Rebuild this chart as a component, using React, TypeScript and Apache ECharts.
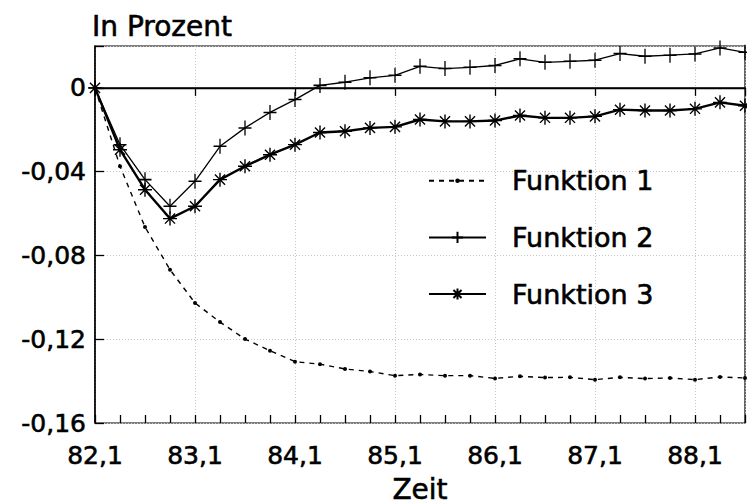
import React, { useEffect, useRef } from "react";
import * as echarts from "echarts";

const periods = [
  "82,1", "82,2", "82,3", "82,4", "83,1", "83,2", "83,3", "83,4",
  "84,1", "84,2", "84,3", "84,4", "85,1", "85,2", "85,3", "85,4",
  "86,1", "86,2", "86,3", "86,4", "87,1", "87,2", "87,3", "87,4",
  "88,1", "88,2", "88,3",
];
const xTickLabels = ["82,1", "83,1", "84,1", "85,1", "86,1", "87,1", "88,1"];
const yTickValues = [-0.16, -0.12, -0.08, -0.04, 0];
const yTickLabels = ["-0,16", "-0,12", "-0,08", "-0,04", "0"];

const funktion1 = [
  0, -0.0374, -0.0664, -0.0868, -0.1027, -0.1118, -0.1199, -0.1255, -0.1307,
  -0.1319, -0.1342, -0.1354, -0.1374, -0.1368, -0.1374, -0.1374, -0.1387,
  -0.1377, -0.1383, -0.1382, -0.1393, -0.1382, -0.1388, -0.1385, -0.1393,
  -0.138, -0.1385,
];
const funktion2 = [
  0, -0.0271, -0.0438, -0.0565, -0.0446, -0.0279, -0.0191, -0.0117, -0.0056,
  0.0012, 0.0027, 0.0048, 0.006, 0.0103, 0.0092, 0.0098, 0.0107, 0.0139,
  0.0122, 0.0127, 0.0132, 0.0164, 0.0151, 0.0156, 0.0162, 0.0191, 0.017,
];
const funktion3 = [
  0, -0.0295, -0.0486, -0.0624, -0.0565, -0.0438, -0.0374, -0.0319, -0.0271,
  -0.0213, -0.0207, -0.0191, -0.0186, -0.0151, -0.016, -0.016, -0.0156,
  -0.0132, -0.0143, -0.0143, -0.0136, -0.0104, -0.0108, -0.0108, -0.01,
  -0.0069, -0.0085,
];

const FONT = "DejaVu Sans";
const DOT = "path://M-5,-5L-5,-5M5,5L5,5M2,0A2,2,0,1,1,-2,0A2,2,0,1,1,2,0Z";
const PLUS = "path://M0,-1L0,1M-1,0L1,0";
const STAR = "path://M0,-1L0,1M-1,0L1,0M-0.72,-0.72L0.72,0.72M-0.72,0.72L0.72,-0.72";

const toPairs = (vals: number[]) => periods.map((_, i) => [i, vals[i]]);

const txt = (size: number) => ({
  fontFamily: FONT,
  fontSize: size,
  fontWeight: "normal" as const,
  color: "#000",
  textBorderColor: "#000",
  textBorderWidth: 0.6,
});

export default function App() {
  const ref = useRef<HTMLDivElement>(null);
  useEffect(() => {
    if (!ref.current) return;
    const chart = echarts.init(ref.current, undefined, { renderer: "svg" });
    const gridLine = { show: true, lineStyle: { color: "#c4c4c4", type: [1, 2] as any, width: 1 } };
    chart.setOption({
      animation: false,
      backgroundColor: "#fff",
      title: {
        text: "In Prozent",
        left: 92,
        top: 12,
        padding: 0,
        textStyle: txt(28),
      },
      grid: {
        left: 95,
        right: 2,
        top: 46,
        bottom: 81,
        containLabel: false,
        outerBoundsMode: "none",
        show: true,
        borderColor: "#000",
        borderWidth: 1.2,
        backgroundColor: "transparent",
      },
      legend: {
        orient: "vertical",
        left: 428,
        top: 167,
        padding: 0,
        itemWidth: 57,
        itemHeight: 14,
        itemGap: 29,
        textStyle: { ...txt(27), padding: [0, 0, 0, 21] },
        data: ["Funktion 1", "Funktion 2", "Funktion 3"],
      },
      xAxis: [
        {
          type: "value",
          min: 0,
          max: periods.length - 1,
          interval: 4,
          name: "Zeit",
          nameLocation: "middle",
          nameGap: 52,
          nameTextStyle: txt(28),
          axisLine: { show: true, lineStyle: { color: "#000", width: 1.5 } },
          axisTick: { show: true, inside: false, length: 8, lineStyle: { color: "#000", width: 1.3 } },
          axisLabel: {
            ...txt(25),
            margin: 20,
            formatter: (v: number) => (v % 4 === 0 ? xTickLabels[v / 4] ?? "" : ""),
          },
          splitLine: gridLine,
        },
        {
          type: "value",
          position: "bottom",
          min: 0,
          max: periods.length - 1,
          interval: 1,
          axisLine: { show: false },
          axisTick: { show: true, inside: true, length: 8, lineStyle: { color: "#000", width: 1.3 } },
          axisLabel: { show: false },
          splitLine: { show: false },
        },
      ],
      yAxis: {
        type: "value",
        min: -0.16,
        max: 0.02,
        interval: 0.04,
        axisLine: { show: true, lineStyle: { color: "#000", width: 1.5 } },
        axisTick: { show: true, inside: true, length: 9, lineStyle: { color: "#000", width: 1.3 } },
        axisLabel: {
          ...txt(25),
          margin: 9,
          formatter: (v: number) => {
            const idx = yTickValues.findIndex((t) => Math.abs(t - v) < 1e-6);
            return idx >= 0 ? yTickLabels[idx] : "";
          },
        },
        splitLine: gridLine,
      },
      series: [
        {
          name: "Funktion 1",
          type: "line",
          data: toPairs(funktion1),
          symbol: DOT,
          symbolSize: 10,
          itemStyle: { color: "#000" },
          lineStyle: { color: "#000", width: 1.4, type: [5, 5] },
          z: 3,
        },
        {
          name: "Funktion 2",
          type: "line",
          data: toPairs(funktion2),
          symbol: PLUS,
          symbolSize: [13, 15],
          itemStyle: { color: "none", borderColor: "#000", borderWidth: 1.4 },
          lineStyle: { color: "#000", width: 1.3 },
          z: 4,
          markLine: {
            silent: true,
            symbol: "none",
            label: { show: false },
            lineStyle: { color: "#000", type: "solid", width: 1.3 },
            data: [{ yAxis: 0 }],
          },
        },
        {
          name: "Funktion 3",
          type: "line",
          data: toPairs(funktion3),
          symbol: STAR,
          symbolSize: 14,
          itemStyle: { color: "none", borderColor: "#000", borderWidth: 1.4 },
          lineStyle: { color: "#000", width: 2.4 },
          z: 5,
        },
      ],
    });
    return () => chart.dispose();
  }, []);
  return (
    <div
      ref={ref}
      style={{ position: "fixed", left: 0, top: 0, width: 747, height: 504, background: "#fff" }}
    />
  );
}
